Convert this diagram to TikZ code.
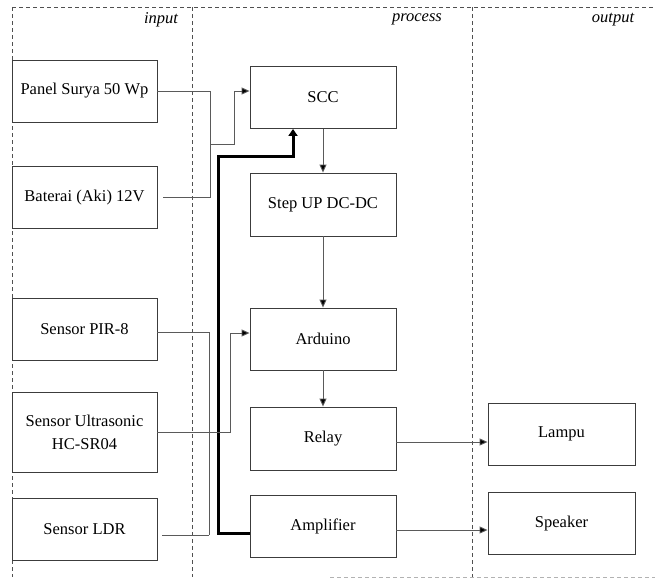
\documentclass[tikz,border=0pt]{standalone}
\usepackage{fontspec}
\setmainfont{Liberation Serif}
\usetikzlibrary{arrows.meta,calc}
\definecolor{boxgray}{HTML}{3C3C3C}
\definecolor{wiregray}{HTML}{5A5A5A}
\definecolor{dashgray}{HTML}{505050}
\tikzset{
  blk/.style={draw=boxgray, line width=0.9pt, minimum height=62pt, inner sep=2pt,
    font=\fontsize{16.5}{23}\selectfont, align=center},
  inbox/.style={blk, minimum width=145pt},
  prbox/.style={blk, minimum width=146pt},
  outbox/.style={blk, minimum width=147pt},
  wire/.style={draw=wiregray, line width=0.9pt},
  arr/.style={wire, -{Triangle[length=8pt,width=7pt,fill=black]}},
  power/.style={draw=black, line width=3pt, -{Triangle[length=7pt,width=9pt]}},
  frame/.style={draw=dashgray, line width=0.8pt, dash pattern=on 4pt off 3pt},
  lbl/.style={font=\fontsize{16.5}{20}\selectfont\itshape, inner sep=0pt}
}
\begin{document}
\begin{tikzpicture}[x=1pt,y=-1pt]
\useasboundingbox (0,0) rectangle (655,579);
% frame
\draw[frame] (12,7) -- (655,7);
\draw[frame] (12,7) -- (12,577);
\draw[frame] (192,7) -- (192,577);
\draw[frame] (472,7) -- (472,577);
\draw[frame, draw=gray!60] (330,577) -- (655,577);
\node[lbl] (lin) at (161,19.5) {input};
\node[lbl] (lpr) at (417,19.5) {process};
\node[lbl] (lout) at (613,19.5) {output};
% input boxes
\node[inbox] (panel) at (84.5,91) {Panel Surya 50 Wp};
\node[inbox] (bat) at (84.5,197.5) {Baterai (Aki) 12V};
\node[inbox] (pir) at (84.5,329) {Sensor PIR-8};
\node[inbox, minimum height=80pt] (ultra) at (84.5,432) {Sensor Ultrasonic\\HC-SR04};
\node[inbox] (ldr) at (84.5,529) {Sensor LDR};
% process boxes
\node[prbox] (scc) at (323,97.5) {SCC};
\node[prbox, minimum height=63pt] (step) at (323,204.5) {Step UP DC-DC};
\node[prbox] (ard) at (323,339) {Arduino};
\node[prbox, minimum height=63pt] (relay) at (323,438.5) {Relay};
\node[prbox] (amp) at (323,526) {Amplifier};
% output boxes
\node[outbox] (lampu) at (561.5,434) {Lampu};
\node[outbox] (spk) at (561.5,523.5) {Speaker};
% power inputs to SCC
\coordinate (j1) at (210,144);
\draw[wire] (panel.east) -| (j1);
\draw[wire] ([xshift=6pt]bat.east) -| (j1);
\draw[arr] (j1) -- ++(24,0) |- (scc.west |- panel.east);
% thick feedback from amplifier to SCC
\coordinate (t1) at (218,156);
\draw[power] ([yshift=-7pt]amp.west) -| (t1) -| ([xshift=-30pt]scc.south);
% vertical chain
\draw[arr] (scc.south) -- (step.north);
\draw[arr] (step.south) -- (ard.north);
\draw[arr] (ard.south) -- (relay.north);
% sensors
\coordinate (j2) at (209,535);
\draw[wire] ([yshift=-3pt]pir.east) -| (j2);
\draw[wire] ([xshift=5pt,yshift=-6pt]ldr.east) -- (j2);
\draw[arr] (ultra.east) -- ++(73,0) |- ([yshift=6pt]ard.west);
% outputs
\coordinate (r1) at ([yshift=-3.5pt]relay.east);
\draw[arr] (r1) -- (r1 -| lampu.west);
\coordinate (r2) at ([yshift=-4pt]amp.east);
\draw[arr] (r2) -- (r2 -| spk.west);
\end{tikzpicture}
\end{document}
